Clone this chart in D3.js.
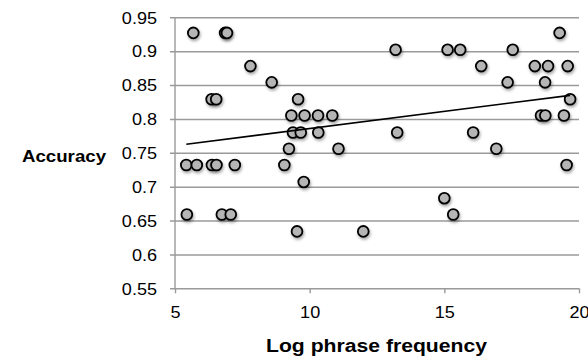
<!DOCTYPE html>
<html>
<head>
<meta charset="utf-8">
<script src="https://cdn.jsdelivr.net/npm/d3@7"></script>
<style>
  body { margin: 0; background: #fff; }
  svg { display: block; font-family: "Liberation Sans", Arial, sans-serif; }
</style>
</head>
<body>
<div id="chart"></div>
<script>
// data
var logFreq = [5.68, 6.86, 6.93, 19.28,
  13.19, 15.12, 15.59, 17.54,
  7.80, 16.37, 18.36, 18.85, 19.58,
  8.59, 17.35, 18.74,
  6.36, 6.53, 9.57, 19.67,
  9.32, 9.81, 10.31, 10.84, 18.59, 18.75, 19.44,
  9.38, 9.67, 10.32, 13.25, 16.07,
  9.23, 11.07, 16.93,
  5.42, 5.81, 6.37, 6.54, 7.22, 9.06, 19.54,
  9.78,
  15.0,
  5.44, 6.74, 7.07, 15.33,
  9.53, 11.99];
var accuracy = [0.927, 0.927, 0.927, 0.927,
  0.902, 0.902, 0.902, 0.902,
  0.878, 0.878, 0.878, 0.878, 0.878,
  0.854, 0.854, 0.854,
  0.829, 0.829, 0.829, 0.829,
  0.805, 0.805, 0.805, 0.805, 0.805, 0.805, 0.805,
  0.780, 0.780, 0.780, 0.780, 0.780,
  0.756, 0.756, 0.756,
  0.732, 0.732, 0.732, 0.732, 0.732, 0.732, 0.732,
  0.707,
  0.683,
  0.659, 0.659, 0.659, 0.659,
  0.634, 0.634];
var xTicks = [5, 10, 15, 20];
var yTicks = [0.55, 0.6, 0.65, 0.7, 0.75, 0.8, 0.85, 0.9, 0.95];

var WIDTH = 588, HEIGHT = 362;
var STRETCH = 1.13; // text in the picture is a bit wide

var data = logFreq.map(function(f, i) { return {x: f, y: accuracy[i]}; });

var xScale = d3.scaleLinear().domain([5, 20]).range([175, 579]);
var yScale = d3.scaleLinear().domain([0.55, 0.95]).range([288.3, 17.3]);

var svg = d3.select("#chart").append("svg")
  .attr("width", WIDTH)
  .attr("height", HEIGHT);

var shadow = svg.append("defs").append("filter")
  .attr("id", "shadow")
  .attr("x", "-50%").attr("y", "-50%")
  .attr("width", "200%").attr("height", "200%");
shadow.append("feDropShadow")
  .attr("dx", 1).attr("dy", 2)
  .attr("stdDeviation", 1.4)
  .attr("flood-color", "#000")
  .attr("flood-opacity", 0.35);

// gridlines + y axis
var yAxis = svg.append("g")
  .attr("transform", "translate(175,0)")
  .call(d3.axisLeft(yScale).tickValues(yTicks)
    .tickSize(-(579 - 175)).tickSizeOuter(0)
    .tickFormat(function(d) { return String(+d.toFixed(2)); }));
yAxis.select(".domain").remove();
yAxis.selectAll(".tick line")
  .attr("x1", -5)
  .attr("stroke", "#9a9a9a")
  .attr("stroke-width", 1.4);
yAxis.selectAll(".tick text")
  .attr("fill", "#000")
  .style("font-size", "16px")
  .attr("x", -18 / STRETCH)
  .attr("dy", "0.36em")
  .attr("transform", "scale(" + STRETCH + ",1)");

svg.append("line")
  .attr("x1", 175).attr("x2", 175)
  .attr("y1", yScale(0.95)).attr("y2", yScale(0.55))
  .attr("stroke", "#9a9a9a")
  .attr("stroke-width", 1.4);

// x axis ticks
var xAxis = svg.append("g")
  .attr("transform", "translate(0," + yScale(0.55) + ")")
  .call(d3.axisBottom(xScale).tickValues(xTicks).tickSize(5).tickSizeOuter(0));
xAxis.select(".domain").remove();
xAxis.selectAll(".tick line")
  .attr("stroke", "#9a9a9a")
  .attr("stroke-width", 1.4);
xAxis.selectAll(".tick text")
  .attr("fill", "#000")
  .style("font-size", "16px")
  .attr("y", 18)
  .attr("dy", "0.71em")
  .attr("transform", "scale(" + STRETCH + ",1)")
  .attr("x", function(d) { return 0; });

// points
svg.append("g")
  .selectAll("circle")
  .data(data)
  .enter().append("circle")
  .attr("cx", function(d) { return xScale(d.x); })
  .attr("cy", function(d) { return yScale(d.y); })
  .attr("r", 5.4)
  .attr("fill", "#b5b5b5")
  .attr("stroke", "#000")
  .attr("stroke-width", 1.8)
  .attr("filter", "url(#shadow)");

// linear trendline from the data
var n = data.length,
  mx = d3.mean(data, function(d) { return d.x; }),
  my = d3.mean(data, function(d) { return d.y; });
var slope = d3.sum(data, function(d) { return (d.x - mx) * (d.y - my); }) /
  d3.sum(data, function(d) { return (d.x - mx) * (d.x - mx); });
var icpt = my - slope * mx;
var xExt = d3.extent(data, function(d) { return d.x; });

svg.append("line")
  .attr("x1", xScale(xExt[0])).attr("y1", yScale(icpt + slope * xExt[0]))
  .attr("x2", xScale(xExt[1])).attr("y2", yScale(icpt + slope * xExt[1]))
  .attr("stroke", "#000")
  .attr("stroke-width", 1.6);

// axis titles
svg.append("text")
  .attr("x", 22).attr("y", 162)
  .style("font-size", "16px")
  .style("font-weight", "bold")
  .attr("textLength", 84)
  .attr("lengthAdjust", "spacingAndGlyphs")
  .text("Accuracy");

svg.append("text")
  .attr("x", 266).attr("y", 352)
  .style("font-size", "18px")
  .style("font-weight", "bold")
  .attr("textLength", 221)
  .attr("lengthAdjust", "spacingAndGlyphs")
  .text("Log phrase frequency");
</script>
</body>
</html>
